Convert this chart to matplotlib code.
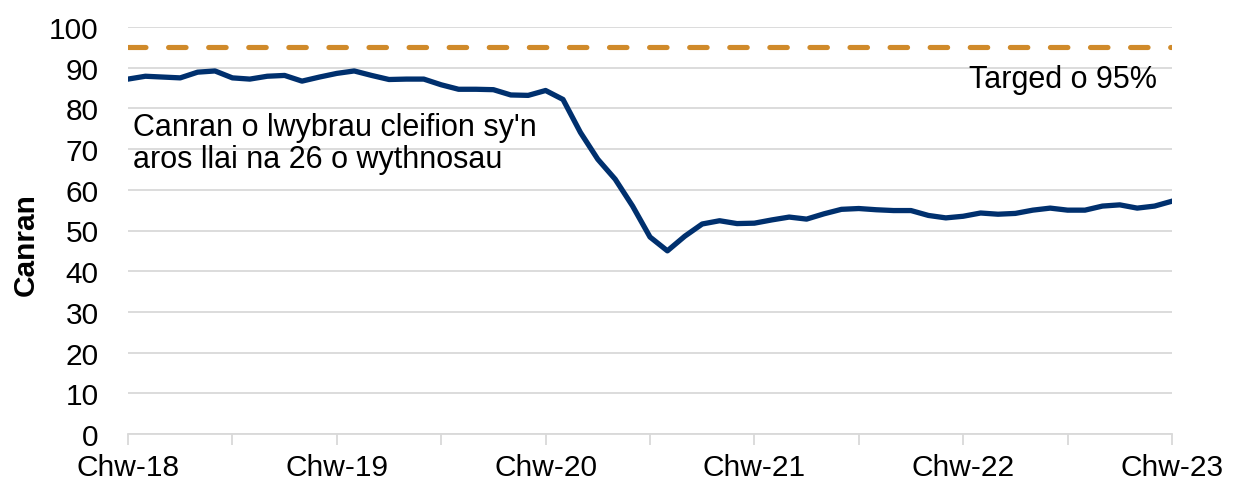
import matplotlib
matplotlib.use("Agg")
import matplotlib.pyplot as plt
import numpy as np

plt.rcParams['font.family'] = ['Liberation Sans', 'DejaVu Sans']

# Monthly values, Feb 2018 (Chw-18) to Feb 2023 (Chw-23)
percent = [
    87.2, 87.9, 87.7, 87.5, 88.9, 89.2, 87.5, 87.2, 87.9, 88.1,
    86.7, 87.7, 88.6, 89.2, 88.1, 87.1, 87.2, 87.2, 85.8, 84.7,
    84.7, 84.6, 83.3, 83.2, 84.4, 82.2, 74.1, 67.5, 62.6, 56.0,
    48.4, 45.0, 48.6, 51.6, 52.4, 51.7, 51.8, 52.6, 53.3, 52.8,
    54.1, 55.2, 55.4, 55.1, 54.9, 54.9, 53.7, 53.1, 53.5, 54.3,
    54.0, 54.2, 55.0, 55.5, 55.0, 55.0, 56.0, 56.3, 55.5, 56.0,
    57.2,
]
target = 95
tick_labels = ["Chw-18", "Chw-19", "Chw-20", "Chw-21", "Chw-22", "Chw-23"]
y_label = "Canran"
series_label_lines = ["Canran o lwybrau cleifion sy'n", "aros llai na 26 o wythnosau"]
target_label = "Targed o 95%"

navy = "#00306E"
orange = "#D08A2A"
grid_c = "#D9D9D9"
fs = 21.5

fig = plt.figure(figsize=(12.36, 4.81), dpi=100)
ax = fig.add_axes([128/1236, 1-435/481, (1172-128)/1236, (435-28)/481])

x = np.arange(len(percent))
ax.plot(x, percent, color=navy, lw=3.8, solid_joinstyle='round', zorder=3)
ax.plot([0, len(percent)-1], [target, target], color=orange, lw=3.7,
        dashes=(3.4, 4.4), dash_capstyle='round', zorder=3)

ax.set_xlim(0, len(percent)-1)
ax.set_ylim(0, 100)
ax.set_yticks(np.arange(0, 101, 10))
ax.yaxis.grid(True, color=grid_c, lw=1.3)
ax.set_axisbelow(True)
ax.tick_params(axis='y', length=0, pad=21, labelsize=fs)

minor = np.arange(0, len(percent), 6)
ax.set_xticks(minor)
ax.set_xticklabels([tick_labels[i // 12] if i % 12 == 0 else "" for i in minor])
ax.tick_params(axis='x', length=8, width=1.3, color=grid_c, pad=6, labelsize=fs)

for s in ['left', 'right', 'top']:
    ax.spines[s].set_visible(False)
ax.spines['bottom'].set_color(grid_c)
ax.spines['bottom'].set_linewidth(1.3)

ax.set_ylabel(y_label, fontsize=fs, fontweight='bold')
ax.yaxis.set_label_coords(-0.085, 0.467)

ax.text(0.29, 73.5, series_label_lines[0], fontsize=22, ha='left', va='baseline')
ax.text(0.29, 65.6, series_label_lines[1], fontsize=22, ha='left', va='baseline')
ax.text(59.14, 85.3, target_label, fontsize=22, ha='right', va='baseline')

fig.savefig("out.png", dpi=100)
